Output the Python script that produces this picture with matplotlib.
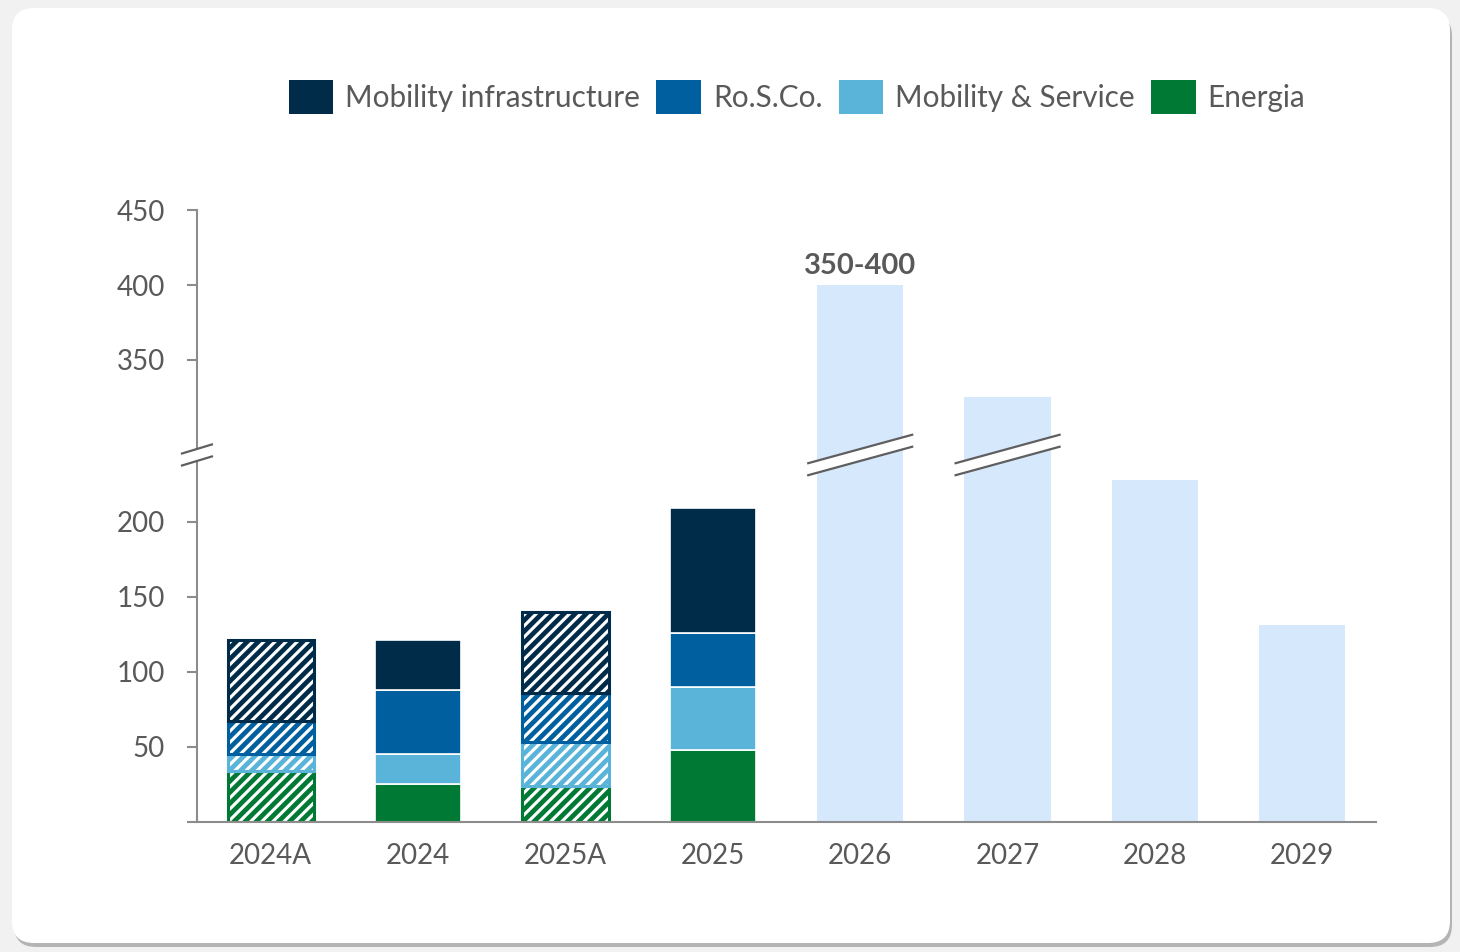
import matplotlib as mpl
import matplotlib.pyplot as plt
from matplotlib.patches import Patch, FancyBboxPatch, Polygon
from matplotlib.transforms import IdentityTransform
import numpy as np

# data
categories = ['2024A', '2024', '2025A', '2025', '2026', '2027', '2028', '2029']
series = ['Energia', 'Mobility & Service', 'Ro.S.Co.', 'Mobility infrastructure']
energia = [34, 25, 24, 48]
mob_service = [11, 20, 29, 42]
rosco = [22, 43, 33, 36]
mob_infra = [54, 33, 54, 83]
actual = [True, False, True, False]
forecast = [400, 325, 228, 131]
forecast_label = '350-400'

colors = {'Energia': '#007934', 'Mobility & Service': '#5AB4DA',
          'Ro.S.Co.': '#005F9E', 'Mobility infrastructure': '#002B49'}
light = '#D6E8FC'
grey_txt = '#595959'

plt.rcParams['font.family'] = ['Lato', 'DejaVu Sans']
plt.rcParams['hatch.linewidth'] = 1.7

# compressed y axis: the 240..290 stretch is squeezed into the break
v_knots = np.array([0, 240, 290, 450])
f_knots = np.array([0, 240, 248, 408])
def fwd(v):
    return np.interp(v, v_knots, f_knots)
def inv(f):
    return np.interp(f, f_knots, v_knots)

fig = plt.figure(figsize=(7.3, 4.76), dpi=200)
fig.patch.set_facecolor('#f1f1f1')
# card with shadow
fig.patches.append(FancyBboxPatch((14, 5), 1438, 933, boxstyle='round,pad=0,rounding_size=22',
                                  transform=IdentityTransform(), facecolor='#b4b4b4',
                                  edgecolor='none', zorder=-10))
fig.patches.append(FancyBboxPatch((12, 9), 1438, 935, boxstyle='round,pad=0,rounding_size=22',
                                  transform=IdentityTransform(), facecolor='white',
                                  edgecolor='none', zorder=-9))

ax = fig.add_axes([0.1349, 0.1366, 0.8076, 0.6428])
ax.set_facecolor('none')
ax.set_yscale('function', functions=(fwd, inv))
ax.set_ylim(0, 450)
ax.set_xlim(-0.5, 7.5)

x = np.arange(len(categories))
w = 0.585
stacks = [energia, mob_service, rosco, mob_infra]
bottom = np.zeros(4)
for name, vals in zip(series, stacks):
    for i in range(4):
        if actual[i]:
            ax.bar(x[i], vals[i], w, bottom=bottom[i], facecolor='white',
                   edgecolor=colors[name], linewidth=1.1, hatch='//////')
        else:
            ax.bar(x[i], vals[i], w, bottom=bottom[i], color=colors[name],
                   edgecolor='white', linewidth=0.6)
    bottom += np.array(vals)

ax.bar(x[4:], forecast, w, color=light, linewidth=0)
ax.annotate(forecast_label, (x[4], forecast[0]), xytext=(0, 2), textcoords='offset points',
            ha='center', va='bottom', fontsize=10.5, fontweight='bold', color=grey_txt)

# break marks on the bars
tr = ax.get_xaxis_transform()
yb = 0.5997
for xi in x[4:6]:
    hw, hr, g = 0.36, 0.0237, 0.0098
    ax.add_patch(Polygon([(xi - hw, yb - hr + g), (xi + hw, yb + hr + g),
                          (xi + hw, yb + hr - g), (xi - hw, yb - hr - g)],
                         closed=True, transform=tr, facecolor='white', edgecolor='none', zorder=3))
    for s in (1, -1):
        ax.plot([xi - hw, xi + hw], [yb - hr + s * g, yb + hr + s * g], transform=tr,
                color='#5f5f5f', lw=0.8, zorder=4, solid_capstyle='butt')

# break mark on the y axis
hw, hr, g = 0.0127, 0.0074, 0.0098
ax.add_patch(Polygon([(-hw, yb - hr + g), (hw, yb + hr + g), (hw, yb + hr - g), (-hw, yb - hr - g)],
                     closed=True, transform=ax.transAxes, facecolor='white', edgecolor='none',
                     zorder=5, clip_on=False))
for s in (1, -1):
    ax.plot([-hw, hw], [yb - hr + s * g, yb + hr + s * g], transform=ax.transAxes,
            color='#5f5f5f', lw=0.8, zorder=6, clip_on=False)

yt = [0, 50, 100, 150, 200, 350, 400, 450]
ax.set_yticks(yt)
ax.set_yticklabels([''] + [str(t) for t in yt[1:]])
ax.yaxis.set_minor_locator(mpl.ticker.NullLocator())
ax.set_xticks(x)
ax.set_xticklabels(categories)
ax.tick_params(axis='y', length=3.6, width=0.75, color='#8c8c8c', pad=7.9,
               labelsize=10, labelcolor=grey_txt)
ax.tick_params(axis='x', length=0, pad=7.5, labelsize=10, labelcolor=grey_txt)
for s in ('top', 'right'):
    ax.spines[s].set_visible(False)
for s in ('left', 'bottom'):
    ax.spines[s].set_color('#8c8c8c')
    ax.spines[s].set_linewidth(0.75)

handles = [Patch(facecolor=colors[n], edgecolor='none') for n in series[::-1]]
fig.legend(handles, series[::-1], loc='center', bbox_to_anchor=(797 / 1460, 1 - 97 / 952),
           ncol=4, frameon=False, fontsize=10.7, labelcolor=grey_txt,
           handlelength=1.5, handleheight=1.35, handletextpad=0.4, columnspacing=0.55)

fig.savefig('out.png', dpi=200, facecolor=fig.get_facecolor())
